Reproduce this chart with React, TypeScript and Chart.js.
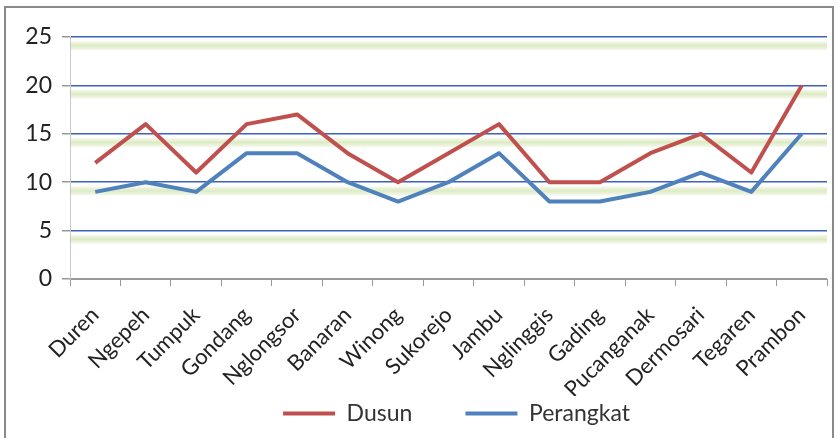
import React, { useEffect, useRef } from "react";
import { Chart, registerables } from "chart.js";

Chart.register(...registerables);

const categories = ["Duren", "Ngepeh", "Tumpuk", "Gondang", "Nglongsor", "Banaran", "Winong", "Sukorejo", "Jambu", "Nglinggis", "Gading", "Pucanganak", "Dermosari", "Tegaren", "Prambon"];
const dusun = [12, 16, 11, 16, 17, 13, 10, 13, 16, 10, 10, 13, 15, 11, 20];
const perangkat = [9, 10, 9, 13, 13, 10, 8, 10, 13, 8, 8, 9, 11, 9, 15];
const yTicks = [0, 5, 10, 15, 20, 25];

const FONT = "Lato, 'Open Sans', sans-serif";

const bandPlugin = {
  id: "bands",
  afterLayout(chart: any) {
    if (chart.legend) {
      chart.legend.left += 38;
      chart.legend.right += 38;
    }
  },
  beforeDatasetsDraw(chart: any) {
    const y = chart.scales.y;
    const { left, right } = chart.chartArea;
    const ctx = chart.ctx;
    ctx.save();
    for (const v of yTicks) {
      if (v === 0) continue;
      const top = y.getPixelForValue(v - 0.45);
      const bot = y.getPixelForValue(v - 1.35);
      const g = ctx.createLinearGradient(0, top, 0, bot);
      g.addColorStop(0, "rgba(215,232,185,0.3)");
      g.addColorStop(0.5, "rgba(205,226,170,0.7)");
      g.addColorStop(1, "rgba(215,232,185,0.3)");
      ctx.fillStyle = g;
      ctx.fillRect(left + 1, top, right - left - 1, bot - top);
    }
    ctx.restore();
  },
};

export default function App() {
  const ref = useRef<HTMLCanvasElement | null>(null);
  useEffect(() => {
    if (!ref.current) return;
    const chart = new Chart(ref.current, {
      type: "line",
      data: {
        labels: categories,
        datasets: [
          {
            label: "Dusun",
            data: dusun,
            borderColor: "#C0504D",
            backgroundColor: "#C0504D",
            borderWidth: 4,
            pointRadius: 0,
            tension: 0,
            borderJoinStyle: "round",
          },
          {
            label: "Perangkat",
            data: perangkat,
            borderColor: "#4F81BD",
            backgroundColor: "#4F81BD",
            borderWidth: 4,
            pointRadius: 0,
            tension: 0,
            borderJoinStyle: "round",
          },
        ],
      },
      options: {
        animation: false,
        responsive: false,
        maintainAspectRatio: false,
        layout: { padding: { left: 10, right: 13, top: 37, bottom: 3 } },
        plugins: {
          tooltip: { enabled: false },
          legend: {
            position: "bottom",
            labels: {
              font: { family: FONT, size: 23 },
              color: "#333",
              boxWidth: 52,
              boxHeight: 4,
              padding: 6,
              generateLabels(chart: any) {
                const items = Chart.defaults.plugins.legend.labels.generateLabels(chart);
                items.forEach((it: any, i: number) => {
                  if (i === 0) it.text = it.text + "        ";
                  it.lineWidth = 0;
                });
                return items;
              },
            },
          },
        },
        scales: {
          x: {
            offset: true,
            grid: {
              offset: true,
              drawOnChartArea: false,
              drawTicks: true,
              tickLength: 7,
              tickColor: "#999",
            },
            border: { color: "#999", width: 1 },
            ticks: {
              font: { family: FONT, size: 22 },
              color: "#222",
              maxRotation: 45,
              minRotation: 45,
              autoSkip: false,
              padding: 16,
            },
            afterFit(scale: any) {
              scale.height = 117;
            },
          },
          y: {
            min: 0,
            max: 25,
            ticks: {
              stepSize: 5,
              font: { family: FONT, size: 23 },
              color: "#222",
              padding: 10,
            },
            grid: {
              color: (c: any) => (c.tick && c.tick.value === 0 ? "#999" : "#3D62BC"),
              lineWidth: 1.5,
              tickLength: 8,
              tickColor: "#999",
            },
            border: { color: "#c8c8c8", width: 1 },
            afterFit(scale: any) {
              scale.width = 60;
            },
          },
        },
      },
      plugins: [bandPlugin],
    } as any);
    return () => chart.destroy();
  }, []);

  return (
    <div style={{ position: "fixed", left: 0, top: 0, width: 840, height: 438, background: "#fff", overflow: "hidden" }}>
      <div
        style={{
          position: "absolute",
          left: 4,
          top: 6,
          width: 830,
          height: 440,
          border: "2px solid #8a8a8a",
          boxSizing: "border-box",
        }}
      />
      <canvas ref={ref} width={840} height={438} style={{ position: "absolute", left: 0, top: 0 }} />
    </div>
  );
}
